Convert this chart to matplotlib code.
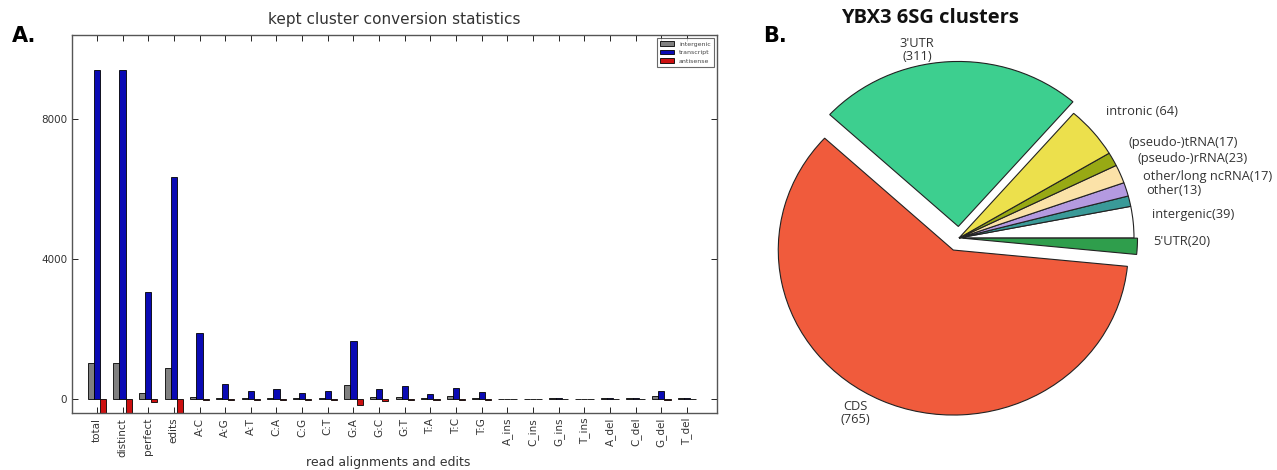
import numpy as np
import matplotlib
matplotlib.use("Agg")
import matplotlib.pyplot as plt

# bar chart data
categories = ["total", "distinct", "perfect", "edits", "A:C", "A:G", "A:T", "C:A",
              "C:G", "C:T", "G:A", "G:C", "G:T", "T:A", "T:C", "T:G",
              "A_ins", "C_ins", "G_ins", "T_ins", "A_del", "C_del", "G_del", "T_del"]
intergenic = [1040, 1040, 160, 900, 50, 30, 20, 30, 20, 25, 390, 60, 60, 30, 80, 40,
              10, 10, 20, 10, 15, 15, 80, 15]
transcript = [9400, 9400, 3070, 6350, 1900, 420, 240, 300, 170, 240, 1660, 280, 360,
              150, 320, 190, 10, 10, 20, 10, 15, 15, 220, 15]
antisense = [-450, -450, -80, -450, -30, -20, -20, -20, -20, -20, -170, -50, -30, -20,
             -30, -20, -5, -5, -5, -5, -5, -5, -30, -5]

# pie data
pie_labels = ["intergenic(39)", "other(13)", "other/long ncRNA(17)", "(pseudo-)rRNA(23)",
              "(pseudo-)tRNA(17)", "intronic (64)", "3'UTR\n(311)", "CDS\n(765)", "5'UTR(20)"]
pie_values = [39, 13, 17, 23, 17, 64, 311, 765, 20]
pie_colors = ["#ffffff", "#3a9a98", "#b49ae0", "#fbe2a8", "#98a914", "#ece04c",
              "#3dcf8f", "#f05b3c", "#2f9e4c"]
pie_explode = [0, 0, 0, 0, 0, 0, 0.07, 0.08, 0.02]
# label anchor positions (pie data coords) and alignment
label_pos = [(1.103, 0.14), (1.07, 0.29), (1.05, 0.37), (1.022, 0.48), (0.97, 0.58),
             (0.84, 0.764), (-0.24, 1.14), (-0.59, -1.06), (1.108, -0.02)]
label_ha = ["left"] * 6 + ["center", "center", "left"]

fig = plt.figure(figsize=(12.77, 4.70), dpi=100)

# --- A: bar chart
ax = fig.add_axes([72 / 1277, 57 / 470, 645 / 1277, 378 / 470])
x = np.arange(len(categories))
w = 0.24
ax.bar(x - w, intergenic, w, color="#808080", edgecolor="black", linewidth=0.6, label="intergenic")
ax.bar(x, transcript, w, color="#0a0ab4", edgecolor="black", linewidth=0.6, label="transcript")
ax.bar(x + w, antisense, w, color="#cc1010", edgecolor="black", linewidth=0.6, label="antisense")
ax.set_xlim(-0.97, 24.17)
ax.set_ylim(-400, 10400)
ax.set_yticks([0, 4000, 8000])
ax.set_xticks(x)
ax.set_xticklabels(categories, rotation=90, fontsize=7.5, color="#333333")
ax.tick_params(axis="y", labelsize=7.5, labelcolor="#333333")
ax.tick_params(direction="in", top=True, right=True, length=4, width=0.6)
for s in ax.spines.values():
    s.set_color("#555555")
    s.set_linewidth(1.0)
ax.set_title("kept cluster conversion statistics", fontsize=11, color="#333333", pad=8)
ax.set_xlabel("read alignments and edits", fontsize=9, color="#333333", va="center")
ax.xaxis.set_label_coords(0.49, -0.13)
leg = ax.legend(loc="upper right", fontsize=4.5, frameon=True, fancybox=False,
                handlelength=2.2, borderpad=0.5, labelspacing=0.5)
leg.get_frame().set_edgecolor("#444444")
leg.get_frame().set_linewidth(0.8)
for t in leg.get_texts():
    t.set_color("#444444")

fig.text(12 / 1277, 1 - 36 / 470, "A.", fontsize=15, fontweight="bold", va="center")
fig.text(763 / 1277, 1 - 36 / 470, "B.", fontsize=15, fontweight="bold", va="center")

# --- B: pie chart
pax = fig.add_axes([760 / 1277, 0, 517 / 1277, 1])
pax.pie(pie_values, colors=pie_colors, explode=pie_explode, startangle=0,
        counterclock=True, wedgeprops=dict(edgecolor="#222222", linewidth=0.8))
pax.set_aspect("auto")
pax.set_xlim(-(959 - 760) / 175, (1277 - 959) / 175)
pax.set_ylim(-(470 - 238) / 165, 238 / 165)
pax.axis("off")
for lab, (lx, ly), ha in zip(pie_labels, label_pos, label_ha):
    pax.text(lx, ly, lab, ha=ha, va="center", fontsize=9.3, family="Open Sans",
             color="#333333", linespacing=1.0)
fig.text(930 / 1277, 1 - 18 / 470, "YBX3 6SG clusters", fontsize=14.5, fontweight="bold",
         family="Open Sans", ha="center", va="center", color="#111111")

fig.savefig("out.png", dpi=100)
